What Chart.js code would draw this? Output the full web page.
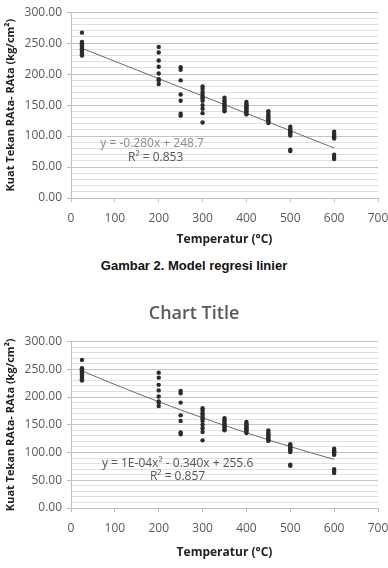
<!DOCTYPE html>
<html>
<head>
<meta charset="utf-8">
<script src="https://cdn.jsdelivr.net/npm/chart.js@4/dist/chart.umd.min.js"></script>
<style>
    html, body { margin: 0; padding: 0; background: #fff; }
    body { width: 388px; height: 568px; position: relative; overflow: hidden; }
    #chart-top { position: absolute; left: 0; top: 0; }
    #chart-bottom { position: absolute; left: 0; top: 283px; }
    #caption {
        position: absolute; left: 0; top: 258px; width: 388px; text-align: center;
        font-family: "Liberation Sans", Arial, sans-serif; font-weight: bold; font-size: 13px; color: #111;
    }
</style>
</head>
<body>
<canvas id="chart-top" width="388" height="250"></canvas>
<div id="caption">Gambar 2. Model regresi linier</div>
<canvas id="chart-bottom" width="388" height="285"></canvas>
<script>
// Temperature groups (°C) and measured compressive strength values per group (kg/cm²)
const temps = [25, 200, 250, 300, 350, 400, 450, 500, 600];
const strengths = [
    [267, 252, 250, 248, 246, 244, 242, 240, 238, 235, 232, 230],
    [244, 235, 222, 212, 201, 192, 190, 184],
    [211, 207, 190, 167, 157, 136, 133],
    [180, 176, 171, 168, 164, 161, 157, 150, 144, 137, 122],
    [162, 158, 155, 152, 150, 148, 145, 142, 140],
    [155, 152, 150, 148, 146, 144, 142, 140, 137, 135],
    [140, 136, 133, 131, 128, 126, 124, 121],
    [115, 112, 110, 108, 106, 104, 101, 78, 76],
    [107, 104, 102, 100, 98, 96, 70, 66, 63]
];

// Linear trendline end points (y = -0.280x + 248.7)
const linTrendX = [25, 600];
const linTrendY = [241.7, 80.7];

// Polynomial trendline points (y = 1E-04x² - 0.340x + 255.6)
const polyTrendX = [25, 100, 200, 300, 400, 500, 600];
const polyTrendY = [247.2, 222.6, 191.6, 162.6, 135.6, 110.6, 87.6];

// Equation labels: text and anchor values (data units)
const linLabels = ['y = -0.280x + 248.7', 'R² = 0.853'];
const linLabelAt = [[185, 88], [193, 66]];
const polyLabels = ['y = 1E-04x² - 0.340x + 255.6', 'R² = 0.857'];
const polyLabelAt = [[243, 80], [243, 57]];

const yTickLabels = ['0.00', '50.00', '100.00', '150.00', '200.00', '250.00', '300.00'];
const xTickLabels = ['0', '100', '200', '300', '400', '500', '600', '700'];

const axisFont = '"Open Sans", "DejaVu Sans", sans-serif';

// Build scatter points from the group arrays
const points = [];
temps.forEach((t, i) => {
    strengths[i].forEach(v => points.push({ x: t, y: v }));
});

function pairUp(xs, ys) {
    return xs.map((x, i) => ({ x: x, y: ys[i] }));
}

// Plugin that writes trendline equation text at data positions
const equationPlugin = {
    id: 'equationText',
    afterDatasetsDraw(chart, args, opts) {
        const ctx = chart.ctx;
        const xs = chart.scales.x;
        const ys = chart.scales.y;
        ctx.save();
        ctx.font = '12px ' + axisFont;
        ctx.textAlign = 'center';
        ctx.textBaseline = 'middle';
        opts.lines.forEach((txt, i) => {
            ctx.fillStyle = opts.colors[i];
            ctx.fillText(txt, xs.getPixelForValue(opts.at[i][0]), ys.getPixelForValue(opts.at[i][1]));
        });
        ctx.restore();
    }
};

function makeOptions(eqLines, eqAt, eqColors, withTitle, padTop, padBottom, xHeight) {
    return {
        responsive: false,
        animation: false,
        layout: { padding: { top: padTop, right: 0, bottom: padBottom, left: 0 } },
        plugins: {
            legend: { display: false },
            tooltip: { enabled: false },
            title: {
                display: withTitle,
                text: 'Chart Title',
                color: '#595959',
                font: { family: axisFont, size: 18, weight: '600' },
                padding: { top: 20, bottom: 17 }
            },
            equationText: { lines: eqLines, at: eqAt, colors: eqColors }
        },
        scales: {
            x: {
                type: 'linear',
                min: 0,
                max: 700,
                ticks: {
                    stepSize: 100,
                    color: '#595959',
                    font: { family: axisFont, size: 12 },
                    padding: 9,
                    maxRotation: 0,
                    callback: (v) => xTickLabels[v / 100]
                },
                grid: { drawOnChartArea: false, tickLength: 4, color: '#bfbfbf' },
                border: { color: '#bfbfbf' },
                title: {
                    display: true,
                    text: 'Temperatur (°C)',
                    color: '#222',
                    font: { family: axisFont, size: 12, weight: 'bold' },
                    padding: { top: 0, bottom: 1 }
                },
                afterFit: (s) => {
                    s.height = xHeight;
                    s.paddingRight = 10; // just enough room for the "700" label
                }
            },
            y: {
                min: 0,
                max: 300,
                ticks: {
                    stepSize: 10,
                    color: '#595959',
                    font: { family: axisFont, size: 12 },
                    padding: 5,
                    autoSkip: false,
                    callback: (v) => (v % 50 === 0 ? yTickLabels[v / 50] : '')
                },
                grid: {
                    tickLength: 4,
                    color: (c) => (c.tick && c.tick.value % 50 === 0 ? '#c4c4c4' : '#e0e0e0'),
                    tickColor: (c) => (c.tick && c.tick.value % 50 === 0 ? '#bfbfbf' : 'rgba(0,0,0,0)')
                },
                border: { color: '#bfbfbf' },
                title: {
                    display: true,
                    text: 'Kuat Tekan RAta- RAta (kg/cm²)',
                    color: '#222',
                    font: { family: axisFont, size: 11, weight: 'bold' },
                    padding: { top: 4, bottom: 0 }
                },
                afterFit: (s) => { s.width = 71; }
            }
        }
    };
}

function makeData(trendPts, smooth) {
    return {
        datasets: [
            {
                type: 'scatter',
                data: points,
                pointStyle: 'circle',
                pointRadius: 2.2,
                backgroundColor: '#2b2b2b',
                borderColor: '#2b2b2b',
                borderWidth: 0
            },
            {
                type: 'line',
                data: trendPts,
                borderColor: '#6b6b6b',
                borderWidth: 1,
                pointRadius: 0,
                fill: false,
                tension: smooth ? 0.4 : 0,
                cubicInterpolationMode: smooth ? 'monotone' : 'default'
            }
        ]
    };
}

new Chart(document.getElementById('chart-top'), {
    type: 'scatter',
    data: makeData(pairUp(linTrendX, linTrendY), false),
    options: makeOptions(linLabels, linLabelAt, ['#8a8a8a', '#555'], false, 11, 2, 50),
    plugins: [equationPlugin]
});

new Chart(document.getElementById('chart-bottom'), {
    type: 'scatter',
    data: makeData(pairUp(polyTrendX, polyTrendY), true),
    options: makeOptions(polyLabels, polyLabelAt, ['#555', '#555'], true, 0, 7, 53),
    plugins: [equationPlugin]
});
</script>
</body>
</html>
